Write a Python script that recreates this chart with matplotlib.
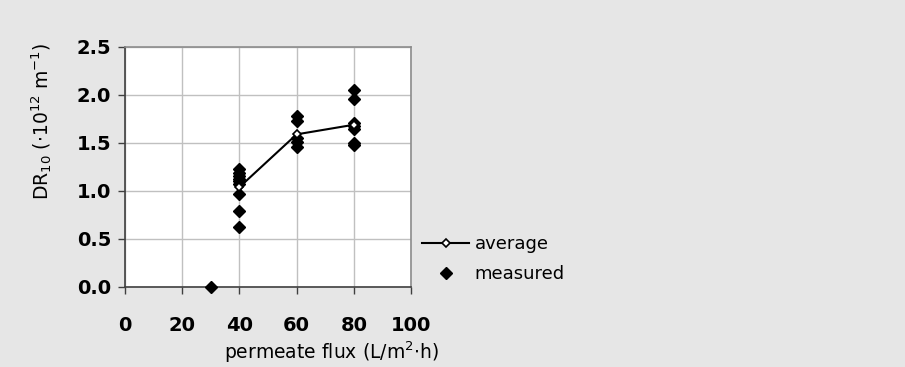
import matplotlib
matplotlib.use("Agg")
import matplotlib.pyplot as plt
from matplotlib.lines import Line2D

# measured resistance values per permeate flux
flux_measured = [30,
                 40, 40, 40, 40, 40, 40, 40, 40, 40,
                 60, 60, 60, 60, 60,
                 80, 80, 80, 80, 80, 80, 80]
dr_measured = [0.0,
               1.23, 1.19, 1.16, 1.13, 1.10, 1.07, 0.97, 0.79, 0.63,
               1.78, 1.73, 1.55, 1.51, 1.46,
               2.05, 1.96, 1.71, 1.68, 1.65, 1.50, 1.48]

# averages
flux_avg = [40, 60, 80]
dr_avg = [1.04, 1.59, 1.69]

x_ticks = [0, 20, 40, 60, 80, 100]
y_ticks = [0.0, 0.5, 1.0, 1.5, 2.0, 2.5]

W, H = 905, 367
bg = "#e6e6e6"
fig = plt.figure(figsize=(W / 100, H / 100), dpi=100, facecolor=bg)
ax = fig.add_axes([125 / W, 1 - 287 / H, (411 - 125) / W, (287 - 47) / H])
ax.set_facecolor("white")

ax.grid(True, color="#c0c0c0", linewidth=1.0, zorder=0)
ax.set_axisbelow(True)

ax.plot(flux_measured, dr_measured, linestyle="none", marker="D",
        markersize=6.5, color="black", zorder=3, clip_on=False)
ax.plot(flux_avg, dr_avg, color="black", linewidth=1.5, marker="D",
        markersize=4.5, markerfacecolor="white", markeredgecolor="black",
        markeredgewidth=1.2, zorder=4)

ax.set_xlim(0, 100)
ax.set_ylim(0, 2.5)
ax.set_xticks(x_ticks)
ax.set_yticks(y_ticks)
ax.set_xticklabels([str(v) for v in x_ticks], fontsize=14, fontweight="bold")
ax.set_yticklabels([f"{v:.1f}" for v in y_ticks], fontsize=14, fontweight="bold")
ax.tick_params(axis="both", direction="out", length=5, width=1, color="#404040")
ax.tick_params(axis="y", pad=5)
ax.tick_params(axis="x", pad=16)

for side in ("left", "bottom"):
    ax.spines[side].set_color("#404040")
    ax.spines[side].set_linewidth(1.2)
for side in ("top", "right"):
    ax.spines[side].set_color("#8c8c8c")
    ax.spines[side].set_linewidth(1.2)

fig.text(331 / W, 1 - 352 / H, r"permeate flux (L/m$^{\mathregular{2}}$$\cdot$h)",
         fontsize=13.5, ha="center", va="center")
fig.text(42 / W, 1 - 121 / H,
         r"DR$_{\mathregular{10}}$ ($\cdot$10$^{\mathregular{12}}$ m$^{\mathregular{-1}}$)",
         fontsize=13.5, rotation=90, ha="center", va="center")

handles = [
    Line2D([], [], color="black", linewidth=1.5, marker="D", markersize=4.5,
           markerfacecolor="white", markeredgecolor="black", markeredgewidth=1.2),
    Line2D([], [], linestyle="none", marker="D", markersize=6.5, color="black"),
]
fig.legend(handles, ["average", "measured"], loc="upper left",
           bbox_to_anchor=(406 / W, 1 - 219 / H), frameon=False, fontsize=13,
           handlelength=2.6, handletextpad=0.3, labelspacing=0.65)

fig.savefig("out.png", dpi=100, facecolor=bg)
